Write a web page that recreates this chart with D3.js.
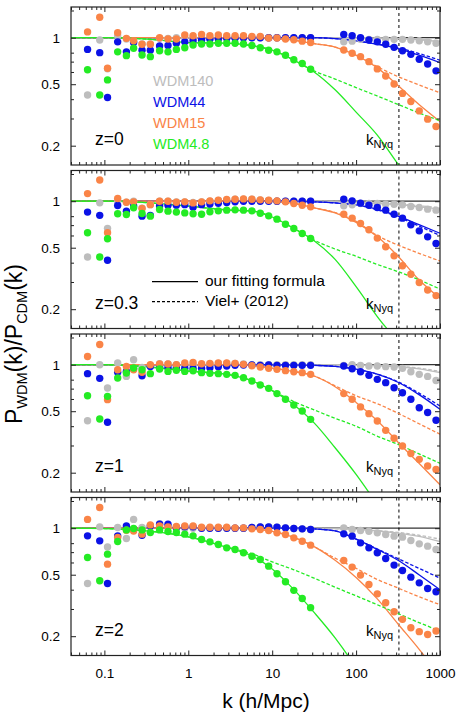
<!DOCTYPE html>
<html>
<head>
<meta charset="utf-8">
<script src="https://cdn.jsdelivr.net/npm/d3@7"></script>
<style>
  html, body { margin: 0; padding: 0; background: #fff; }
  svg { display: block; font-family: "Liberation Sans", Arial, Helvetica, sans-serif; }
</style>
</head>
<body>
<div id="chart"></div>
<script>
// series, order = draw order (gray under blue under orange under green)
const seriesNames = ['WDM140', 'WDM44', 'WDM15', 'WDM4.8']
const seriesColors = ['#bdbdbd', '#0b12e6', '#fa8447', '#24eb24']
const redshiftLabels = ['z=0', 'z=0.3', 'z=1', 'z=2']

// k bins (h/Mpc): low-res box, high-res box, and sample points of the model curves
const kLow = [0.063, 0.088, 0.109, 0.144, 0.183, 0.223, 0.281, 0.353, 0.455, 0.573, 0.721,
  0.908, 1.14, 1.44, 1.81, 2.28, 2.87, 3.61, 4.55, 5.73, 7.21, 9.08, 11.4, 14.4, 18.1, 22.8, 28.7]
const kHigh = [71.3, 89.7, 112.9, 142.2, 179, 225.3, 283.7, 357.1, 449.6, 566, 712.6, 897.1]
const kCurve = [0.04, 0.1, 0.316, 1, 3.16, 5.62, 10, 17.8, 31.6, 56.2, 100, 178, 316, 562, 1000]
const kNyq = 324

const xTickMajor = [0.1, 1, 10, 100, 1000]
const yTickMajor = [0.2, 0.5, 1]
const yTickMinor = [0.3, 0.4, 0.6, 0.7, 0.8, 1.5]

// z = 0
const simLowZ0 = [
  [0.426, 0.966, 0.63, 1.03, 0.98, 0.95, 0.91, 0.91, 0.99, 0.99, 1.0, 1.0, 1.0, 1.01, 1.0, 1.01, 1.0, 1.0, 1.0, 1.0, 1.0, 1.0, 1.0, 1.0, 1.0, 1.0, 1.0],
  [0.84, 0.80, 0.41, 0.94, 0.81, 0.93, 0.83, 0.83, 0.884, 0.89, 0.92, 0.94, 0.956, 0.966, 0.976, 0.98, 0.99, 0.99, 1.0, 1.0, 1.0, 1.0, 1.0, 1.0, 1.0, 1.0, 1.0],
  [1.09, 1.355, 0.634, 1.077, 0.99, 0.956, 0.906, 0.906, 1.0, 0.98, 0.98, 1.04, 1.03, 1.05, 1.03, 1.04, 1.03, 1.03, 1.03, 1.02, 1.02, 0.995, 0.995, 0.98, 0.97, 0.95, 0.93],
  [0.62, 0.426, 0.533, 0.81, 0.765, 0.854, 0.773, 0.754, 0.824, 0.81, 0.84, 0.86, 0.897, 0.91, 0.91, 0.92, 0.92, 0.92, 0.91, 0.89, 0.86, 0.83, 0.81, 0.77, 0.72, 0.68, 0.625]
]
const simHighZ0 = [
  [0.94, 0.95, 0.976, 0.976, 0.976, 0.976, 0.976, 0.976, 0.966, 0.955, 0.94, 0.92],
  [1.05, 1.03, 1.0, 0.966, 0.94, 0.906, 0.866, 0.824, 0.78, 0.725, 0.676, 0.61],
  [0.833, 0.793, 0.754, 0.70, 0.628, 0.565, 0.502, 0.436, 0.386, 0.336, 0.297, 0.266],
  []
]
const fitZ0 = [
  [1, 1, 1, 1, 1, 1, 1, 1, 1, 1, 1, 0.995, 0.985, 0.97, 0.945],
  [1, 1, 1, 1, 1, 1, 1, 1, 1, 0.985, 0.955, 0.905, 0.85, 0.77, 0.69],
  [1, 1, 1, 1, 1, 1, 0.99, 0.965, 0.915, 0.87, 0.77, 0.64, 0.49, 0.37, 0.287],
  [1, 1, 0.98, 0.93, 0.92, 0.89, 0.83, 0.72, 0.6, 0.46, 0.33, 0.235, 0.152, 0.1, 0.06]
]
const vielZ0 = [
  [1, 1, 1, 1, 1, 1, 1, 1, 1, 1, 1, 0.997, 0.99, 0.975, 0.955],
  [1, 1, 1, 1, 1, 1, 1, 1, 1, 0.985, 0.955, 0.91, 0.86, 0.79, 0.715],
  [1, 1, 1, 1, 1, 1, 0.99, 0.965, 0.915, 0.87, 0.77, 0.65, 0.56, 0.495, 0.44],
  [1, 1, 0.98, 0.93, 0.92, 0.89, 0.83, 0.72, 0.61, 0.54, 0.475, 0.42, 0.37, 0.326, 0.29]
]

// z = 0.3
const simLowZ03 = [
  [0.435, 0.976, 0.667, 1.0, 0.985, 1.0, 0.9, 0.95, 1.0, 1.0, 0.99, 0.99, 0.98, 0.99, 1.0, 1.01, 1.02, 1.03, 1.03, 1.03, 1.02, 1.01, 1.0, 1.0, 1.0, 1.0, 1.0],
  [0.85, 0.81, 0.415, 0.938, 0.862, 0.93, 0.8, 0.81, 0.93, 0.94, 0.94, 0.95, 0.915, 0.95, 0.96, 0.97, 0.98, 0.99, 1.0, 1.0, 1.0, 1.0, 1.0, 1.0, 1.0, 1.0, 1.0],
  [1.12, 1.37, 0.625, 1.04, 0.985, 0.99, 0.897, 0.95, 1.0, 1.0, 0.985, 0.99, 0.975, 0.99, 1.005, 1.015, 1.025, 1.03, 1.035, 1.03, 1.02, 1.015, 1.005, 0.99, 0.966, 0.942, 0.919],
  [0.625, 0.435, 0.571, 0.83, 0.82, 0.906, 0.833, 0.8, 0.884, 0.862, 0.85, 0.84, 0.83, 0.824, 0.853, 0.866, 0.875, 0.879, 0.875, 0.866, 0.836, 0.804, 0.765, 0.71, 0.665, 0.618, 0.574]
]
const simHighZ03 = [
  [0.933, 0.947, 0.966, 0.966, 0.966, 0.956, 0.956, 0.947, 0.924, 0.91, 0.888, 0.875],
  [1.03, 1.005, 0.971, 0.942, 0.91, 0.875, 0.824, 0.777, 0.703, 0.643, 0.588, 0.532],
  [0.824, 0.777, 0.717, 0.653, 0.577, 0.507, 0.443, 0.382, 0.337, 0.298, 0.266, 0.245],
  []
]
const fitZ03 = [
  [1, 1, 1, 1, 1, 1, 1, 1, 1, 0.995, 0.985, 0.97, 0.95, 0.92, 0.89],
  [1, 1, 1, 1, 1, 1, 1, 0.998, 0.99, 0.975, 0.947, 0.89, 0.80, 0.705, 0.62],
  [1, 1, 1, 1, 1, 1, 0.995, 0.97, 0.905, 0.84, 0.73, 0.59, 0.44, 0.31, 0.235],
  [1, 1, 0.98, 0.93, 0.875, 0.865, 0.79, 0.67, 0.555, 0.42, 0.28, 0.18, 0.12, 0.07, 0.04]
]
const vielZ03 = [
  [1, 1, 1, 1, 1, 1, 1, 1, 1, 0.997, 0.99, 0.975, 0.96, 0.935, 0.905],
  [1, 1, 1, 1, 1, 1, 1, 0.998, 0.99, 0.975, 0.945, 0.88, 0.79, 0.69, 0.60],
  [1, 1, 1, 1, 1, 1, 0.995, 0.97, 0.905, 0.845, 0.74, 0.6, 0.52, 0.46, 0.41],
  [1, 1, 0.98, 0.93, 0.875, 0.865, 0.79, 0.67, 0.56, 0.49, 0.44, 0.39, 0.35, 0.31, 0.27]
]

// z = 1
const simLowZ1 = [
  [0.434, 1.0, 0.707, 1.025, 0.84, 1.077, 0.96, 0.985, 1.015, 1.01, 1.0, 1.0, 1.0, 1.005, 1.01, 1.02, 1.02, 1.02, 1.01, 1.0, 1.0, 1.0, 1.0, 1.0, 1.0, 1.0, 1.0],
  [0.875, 0.816, 0.424, 0.892, 0.905, 0.94, 0.849, 0.975, 0.96, 0.96, 0.955, 0.95, 0.945, 0.947, 0.956, 0.971, 0.98, 0.99, 0.995, 0.995, 0.99, 0.995, 0.99, 0.99, 0.99, 0.99, 0.99],
  [1.13, 1.35, 0.594, 0.928, 0.975, 0.928, 0.892, 1.0, 1.01, 1.01, 1.0, 1.025, 1.035, 1.015, 1.02, 1.025, 1.025, 1.02, 1.005, 0.985, 0.966, 0.947, 0.933, 0.915, 0.901, 0.888, 0.866],
  [0.63, 0.445, 0.624, 0.82, 0.883, 0.952, 0.928, 0.875, 0.937, 0.905, 0.919, 0.905, 0.914, 0.888, 0.879, 0.875, 0.866, 0.853, 0.824, 0.784, 0.739, 0.703, 0.65, 0.597, 0.549, 0.502, 0.443]
]
const simHighZ1 = [
  [0.99, 1.0, 0.99, 0.98, 0.98, 0.971, 0.966, 0.947, 0.901, 0.866, 0.84, 0.79],
  [0.98, 0.942, 0.901, 0.853, 0.804, 0.765, 0.71, 0.659, 0.597, 0.527, 0.49, 0.437],
  [0.65, 0.597, 0.533, 0.482, 0.432, 0.376, 0.334, 0.298, 0.266, 0.244, 0.221, 0.21],
  []
]
const fitZ1 = [
  [1, 1, 1, 1, 1, 1, 1, 1, 1, 1, 0.995, 0.985, 0.97, 0.94, 0.89],
  [1, 1, 1, 1, 1, 1, 1, 0.998, 0.99, 0.975, 0.935, 0.87, 0.77, 0.64, 0.515],
  [1, 1, 1, 1, 1, 0.99, 0.95, 0.905, 0.845, 0.72, 0.57, 0.435, 0.315, 0.23, 0.167],
  [1, 1, 0.97, 0.91, 0.86, 0.79, 0.68, 0.555, 0.42, 0.29, 0.195, 0.125, 0.08, 0.05, 0.03]
]
const vielZ1 = [
  [1, 1, 1, 1, 1, 1, 1, 1, 1, 1, 0.997, 0.99, 0.975, 0.95, 0.905],
  [1, 1, 1, 1, 1, 1, 1, 0.998, 0.99, 0.975, 0.935, 0.87, 0.775, 0.655, 0.54],
  [1, 1, 1, 1, 1, 0.99, 0.95, 0.905, 0.845, 0.73, 0.63, 0.56, 0.485, 0.415, 0.355],
  [1, 1, 0.97, 0.91, 0.86, 0.79, 0.68, 0.58, 0.51, 0.45, 0.4, 0.345, 0.305, 0.265, 0.23]
]

// z = 2
const simLowZ2 = [
  [0.439, 1.02, 0.757, 1.01, 0.857, 1.14, 1.01, 1.02, 1.07, 1.03, 1.0, 1.0, 1.0, 1.0, 1.0, 1.0, 1.0, 1.0, 1.0, 1.01, 1.02, 1.02, 1.015, 1.005, 0.995, 0.99, 0.98],
  [0.892, 0.828, 0.439, 0.892, 1.035, 0.985, 0.9, 1.035, 1.06, 1.06, 1.01, 1.02, 1.02, 1.0, 1.0, 1.0, 1.0, 1.0, 1.0, 1.01, 1.02, 1.02, 1.015, 1.005, 0.995, 0.99, 0.98],
  [1.14, 1.36, 0.585, 0.87, 0.97, 0.96, 0.915, 1.05, 1.035, 1.02, 1.025, 1.035, 1.035, 1.015, 1.015, 1.015, 1.015, 1.005, 1.005, 0.99, 0.98, 0.966, 0.933, 0.91, 0.866, 0.824, 0.777],
  [0.646, 0.457, 0.679, 0.82, 0.975, 0.995, 0.975, 0.937, 0.975, 0.952, 0.937, 0.915, 0.892, 0.845, 0.816, 0.784, 0.746, 0.728, 0.693, 0.659, 0.627, 0.568, 0.507, 0.45, 0.396, 0.351, 0.306]
]
const simHighZ2 = [
  [1.005, 0.98, 0.966, 0.956, 0.933, 0.91, 0.888, 0.875, 0.832, 0.792, 0.765, 0.728],
  [0.919, 0.888, 0.804, 0.746, 0.693, 0.637, 0.577, 0.532, 0.482, 0.443, 0.407, 0.388],
  [0.618, 0.56, 0.497, 0.432, 0.376, 0.329, 0.288, 0.257, 0.227, 0.214, 0.205, 0.216],
  []
]
const fitZ2 = [
  [1, 1, 1, 1, 1, 1, 1, 1, 0.997, 0.993, 0.985, 0.96, 0.93, 0.885, 0.82],
  [1, 1, 1, 1, 1, 1, 1, 1, 0.99, 0.96, 0.85, 0.73, 0.62, 0.5, 0.4],
  [1, 1, 1, 1, 1, 0.99, 0.955, 0.875, 0.76, 0.62, 0.48, 0.35, 0.24, 0.165, 0.11],
  [1, 0.995, 0.96, 0.88, 0.74, 0.665, 0.545, 0.405, 0.285, 0.195, 0.125, 0.075, 0.045, 0.025, 0.015]
]
const vielZ2 = [
  [1, 1, 1, 1, 1, 1, 1, 1, 0.997, 0.993, 0.985, 0.965, 0.94, 0.9, 0.85],
  [1, 1, 1, 1, 1, 1, 1, 1, 0.99, 0.96, 0.85, 0.735, 0.635, 0.55, 0.475],
  [1, 1, 1, 1, 1, 0.99, 0.955, 0.875, 0.76, 0.64, 0.55, 0.466, 0.41, 0.36, 0.32],
  [1, 0.995, 0.96, 0.88, 0.745, 0.685, 0.605, 0.54, 0.475, 0.415, 0.365, 0.32, 0.28, 0.245, 0.216]
]

const panels = [
  { label: redshiftLabels[0], low: simLowZ0, high: simHighZ0, fit: fitZ0, viel: vielZ0 },
  { label: redshiftLabels[1], low: simLowZ03, high: simHighZ03, fit: fitZ03, viel: vielZ03 },
  { label: redshiftLabels[2], low: simLowZ1, high: simHighZ1, fit: fitZ1, viel: vielZ1 },
  { label: redshiftLabels[3], low: simLowZ2, high: simHighZ2, fit: fitZ2, viel: vielZ2 },
]

// layout
const W = 463
const H = 722
const left = 71
const right = 440
const panelTops = [7, 170.5, 334, 497.5]
const panelH = 158
const TEXT = '#000'
const FRAME = '#222'

const svg = d3.select('#chart').append('svg')
  .attr('width', W)
  .attr('height', H)
  .attr('viewBox', `0 0 ${W} ${H}`)

const x = d3.scaleLog().domain([0.04, 1000]).range([left, right])
const xMinor = x.ticks().filter((d) => !xTickMajor.includes(d))

const line = (y) => d3.line()
  .x((d) => x(d[0]))
  .y((d) => y(d[1]))
  .curve(d3.curveMonotoneX)

function inwardAxis(g, axis, transform) {
  g.append('g')
    .attr('transform', transform)
    .call(axis)
    .call((a) => a.select('.domain').remove())
    .call((a) => a.selectAll('line').attr('stroke', FRAME).attr('stroke-width', 1))
}

panels.forEach((p, i) => {
  const top = panelTops[i]
  const bottom = top + panelH
  const y = d3.scaleLog().domain([0.15, 1.58]).range([bottom, top])
  const g = svg.append('g')

  const clipId = `clip${i}`
  svg.append('clipPath').attr('id', clipId)
    .append('rect')
    .attr('x', left).attr('y', top)
    .attr('width', right - left).attr('height', panelH)

  const plot = g.append('g').attr('clip-path', `url(#${clipId})`)

  // reference line at unity
  plot.append('line')
    .attr('x1', left).attr('x2', right)
    .attr('y1', y(1)).attr('y2', y(1))
    .attr('stroke', '#333')
    .attr('stroke-width', 1.3)

  // Nyquist wavenumber
  plot.append('line')
    .attr('x1', x(kNyq)).attr('x2', x(kNyq))
    .attr('y1', top).attr('y2', bottom)
    .attr('stroke', '#000')
    .attr('stroke-width', 1)
    .attr('stroke-dasharray', '3,3')

  // model curves
  seriesNames.forEach((name, s) => {
    plot.append('path')
      .datum(kCurve.map((k, j) => [k, p.fit[s][j]]))
      .attr('d', line(y))
      .attr('fill', 'none')
      .attr('stroke', seriesColors[s])
      .attr('stroke-width', 1.3)
    plot.append('path')
      .datum(kCurve.map((k, j) => [k, p.viel[s][j]]))
      .attr('d', line(y))
      .attr('fill', 'none')
      .attr('stroke', seriesColors[s])
      .attr('stroke-width', 1.3)
      .attr('stroke-dasharray', '3.5,2')
  })

  // simulation points
  seriesNames.forEach((name, s) => {
    const pts = kLow.map((k, j) => [k, p.low[s][j]])
      .concat(p.high[s].map((v, j) => [kHigh[j], v]))
    plot.append('g')
      .selectAll('circle')
      .data(pts)
      .join('circle')
      .attr('cx', (d) => x(d[0]))
      .attr('cy', (d) => y(d[1]))
      .attr('r', 3.7)
      .attr('fill', seriesColors[s])
  })

  // frame
  g.append('rect')
    .attr('x', left).attr('y', top)
    .attr('width', right - left).attr('height', panelH)
    .attr('fill', 'none')
    .attr('stroke', FRAME)
    .attr('stroke-width', 1.2)

  // ticks, inward on all sides
  const fmt = (d) => (i === panels.length - 1 ? String(d) : '')
  inwardAxis(g, d3.axisBottom(x).tickValues(xTickMajor).tickSize(-5).tickPadding(13).tickFormat(fmt), `translate(0,${bottom})`)
  inwardAxis(g, d3.axisBottom(x).tickValues(xMinor).tickSize(-3).tickFormat(''), `translate(0,${bottom})`)
  inwardAxis(g, d3.axisTop(x).tickValues(xTickMajor).tickSize(-5).tickFormat(''), `translate(0,${top})`)
  inwardAxis(g, d3.axisTop(x).tickValues(xMinor).tickSize(-3).tickFormat(''), `translate(0,${top})`)
  inwardAxis(g, d3.axisLeft(y).tickValues(yTickMajor).tickSize(-5).tickPadding(11).tickFormat((d) => String(d)), `translate(${left},0)`)
  inwardAxis(g, d3.axisLeft(y).tickValues(yTickMinor).tickSize(-3).tickFormat(''), `translate(${left},0)`)
  inwardAxis(g, d3.axisRight(y).tickValues(yTickMajor).tickSize(-5).tickFormat(''), `translate(${right},0)`)
  inwardAxis(g, d3.axisRight(y).tickValues(yTickMinor).tickSize(-3).tickFormat(''), `translate(${right},0)`)
  g.selectAll('.tick text')
    .attr('font-family', '"Liberation Sans", Arial, sans-serif')
    .attr('font-size', 13.5)
    .attr('fill', TEXT)

  // redshift label
  g.append('text')
    .attr('x', 95)
    .attr('y', top + 138)
    .attr('font-size', 17.5)
    .attr('fill', TEXT)
    .text(p.label)

  // k_Nyq label
  const kt = g.append('text')
    .attr('x', 366)
    .attr('y', top + 138)
    .attr('font-size', 15)
    .attr('fill', TEXT)
  kt.append('tspan').text('k')
  kt.append('tspan').attr('dy', 3).attr('font-size', 11).text('Nyq')

  if (i === 0) {
    seriesNames.forEach((name, s) => {
      g.append('text')
        .attr('x', 153)
        .attr('y', top + 79 + s * 21)
        .attr('font-size', 14.5)
        .attr('fill', seriesColors[s])
        .text(name)
    })
  }

  if (i === 1) {
    const styles = [
      { label: 'our fitting formula', dash: null },
      { label: 'Viel+ (2012)', dash: '3,2' },
    ]
    styles.forEach((st, j) => {
      const ly = top + 111.2 + j * 20
      g.append('line')
        .attr('x1', 152).attr('x2', 198)
        .attr('y1', ly).attr('y2', ly)
        .attr('stroke', '#000')
        .attr('stroke-width', 1.2)
        .attr('stroke-dasharray', st.dash)
      g.append('text')
        .attr('x', 205)
        .attr('y', ly + 4.5)
        .attr('font-size', 15.5)
        .attr('fill', TEXT)
        .text(st.label)
    })
  }
})

// axis titles
svg.append('text')
  .attr('x', 266)
  .attr('y', 708)
  .attr('text-anchor', 'middle')
  .attr('font-size', 21)
  .attr('fill', TEXT)
  .text('k (h/Mpc)')

const yl = svg.append('text')
  .attr('transform', 'translate(22,344) rotate(-90)')
  .attr('text-anchor', 'middle')
  .attr('font-size', 23)
  .attr('fill', TEXT)
yl.append('tspan').text('P')
yl.append('tspan').attr('dy', 5).attr('font-size', 14.5).text('WDM')
yl.append('tspan').attr('dy', -5).text('(k)/P')
yl.append('tspan').attr('dy', 5).attr('font-size', 14.5).text('CDM')
yl.append('tspan').attr('dy', -5).text('(k)')
</script>
</body>
</html>
